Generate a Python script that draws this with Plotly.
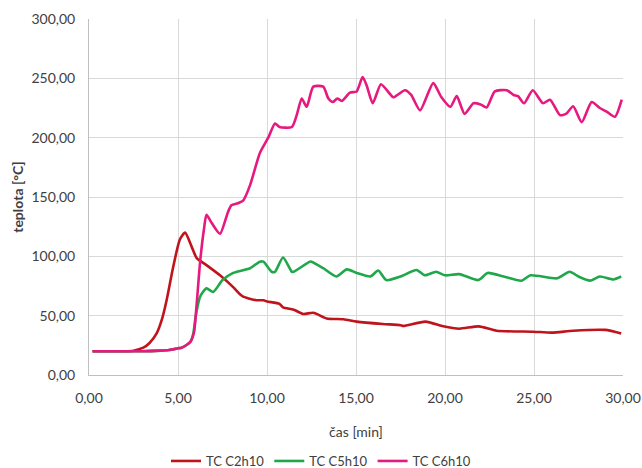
import plotly.graph_objects as go

# TC C2h10 (red)
t_c2 = [0.2, 1.0, 2.0, 2.5, 3.05, 3.4, 3.8, 4.1, 4.36, 4.73, 5.1, 5.4, 5.77, 6.05, 6.6, 7.36, 8.1, 8.48, 8.66,
        9.4, 9.8, 10.0, 10.7, 10.9, 11.5, 12.04, 12.6, 13.35, 14.3, 15.04, 16.5, 17.5, 17.66, 18.9, 19.9, 20.8,
        21.9, 22.9, 24.96, 26.0, 27.2, 29.0, 29.9]
v_c2 = [20, 20, 20, 20.5, 23, 27, 35, 47, 63, 91, 114, 120, 108, 98.5, 92.6, 84, 74, 68, 66,
        63, 63, 62, 60, 57, 55, 51.4, 52.5, 47.7, 47, 45, 43, 42, 41.3, 45, 41, 39,
        41, 37.3, 36.5, 35.7, 37.3, 38, 35]

# TC C5h10 (green)
t_c5 = [0.2, 1.0, 2.0, 3.0, 4.0, 4.5, 5.0, 5.2, 5.5, 5.7, 5.86, 6.0, 6.24, 6.6, 6.98, 7.5, 8.1, 8.3, 9.05, 9.6, 9.8,
        10.26, 10.45, 10.9, 11.4, 11.5, 12.4, 12.5, 13.16, 13.9, 14.48, 15.04, 15.8, 16.25, 16.7, 17.5,
        18.4, 18.87, 19.5, 20.0, 20.8, 21.87, 22.4, 23.3, 24.3, 24.8, 26.3, 27.0, 27.5, 28.15, 28.7,
        29.45, 29.9]
v_c5 = [20, 20, 20, 20, 20.5, 21, 22.5, 23, 25.5, 28, 35, 50, 66, 73, 70, 80, 86, 87, 90, 95.5, 95.5,
        87, 87, 99, 87, 87, 95.5, 95.5, 90, 83, 89, 86, 83, 88, 80, 83,
        88.5, 84, 87, 84, 85, 80, 86, 83, 79.5, 84, 81.5, 87, 83, 79.5, 83,
        80.5, 83]

# TC C6h10 (magenta)
t_c6 = [0.2, 1.0, 2.0, 3.0, 4.0, 4.5, 5.0, 5.2, 5.5, 5.7, 5.9, 6.05, 6.24, 6.45, 6.6, 6.9, 7.36, 7.8, 8.0, 8.4,
        8.66, 9.05, 9.6, 10.07, 10.45, 10.7, 11.4, 11.67, 11.95, 12.23, 12.6, 13.16, 13.45, 13.7, 13.95,
        14.2, 14.66, 15.04, 15.37, 15.6, 15.94, 16.4, 16.9, 17.1, 17.75, 18.1, 18.6, 19.34, 19.8, 20.3,
        20.66, 21.1, 21.6, 22.0, 22.34, 22.8, 23.47, 23.85, 24.1, 24.44, 24.93, 25.5, 25.9, 26.46, 26.8,
        27.2, 27.68, 28.24, 28.7, 29.08, 29.55, 29.93]
v_c6 = [20, 20, 20, 20, 20.5, 21, 22.5, 23, 25.5, 28, 36, 60, 95, 122, 135, 128, 119, 137, 143, 145,
        147, 160, 187, 200, 212, 209, 209, 219, 233, 226, 243, 243, 233, 230, 233,
        231, 238, 239, 251, 244, 229, 245, 237, 234, 240, 236, 223, 246, 234, 226,
        235, 220, 229, 228, 225.5, 239, 240, 236, 235, 229, 240, 229, 232, 219, 220,
        226.5, 213, 230, 225, 222, 217.6, 232]

x_ticks = [0, 5, 10, 15, 20, 25, 30]
y_ticks = [0, 50, 100, 150, 200, 250, 300]

font_family = "Lato, Open Sans, sans-serif"
fig = go.Figure()
fig.add_trace(go.Scatter(x=t_c2, y=v_c2, mode="lines", name="TC C2h10",
                         line=dict(color="#C0141C", width=2.6, shape="spline", smoothing=0.6)))
fig.add_trace(go.Scatter(x=t_c5, y=v_c5, mode="lines", name="TC C5h10",
                         line=dict(color="#1FA84A", width=2.6, shape="spline", smoothing=0.6)))
fig.add_trace(go.Scatter(x=t_c6, y=v_c6, mode="lines", name="TC C6h10",
                         line=dict(color="#E6197F", width=2.6, shape="spline", smoothing=0.6)))

fig.update_layout(
    width=642, height=468,
    margin=dict(l=89, r=19, t=19, b=93, autoexpand=False),
    paper_bgcolor="white", plot_bgcolor="white",
    separators=", ",
    font=dict(family=font_family, size=14, color="#404040"),
    showlegend=True,
    legend=dict(orientation="h", xref="container", x=0.5, xanchor="center", y=-0.2416, yanchor="middle",
                font=dict(size=13, color="#404040"), itemwidth=30, tracegroupgap=0),
)
fig.update_xaxes(range=[0, 30], tickvals=x_ticks, tickformat=".2f",
                 showgrid=True, gridcolor="#D9D9D9", gridwidth=1,
                 showline=True, linecolor="#BFBFBF", linewidth=1, mirror=False,
                 zeroline=False, ticks="", ticklabelstandoff=10, automargin=False,
                 title=dict(text="čas [min]", font=dict(size=14, color="#404040"), standoff=22))
fig.update_yaxes(range=[0, 300], tickvals=y_ticks, tickformat=".2f",
                 showgrid=True, gridcolor="#D9D9D9", gridwidth=1,
                 showline=True, linecolor="#BFBFBF", linewidth=1,
                 zeroline=False, ticks="", ticklabelstandoff=10, automargin=False,
                 title=dict(text="<b>teplota [°C]</b>", font=dict(size=14, color="#404040"), standoff=4))

fig.write_html("out.html")
